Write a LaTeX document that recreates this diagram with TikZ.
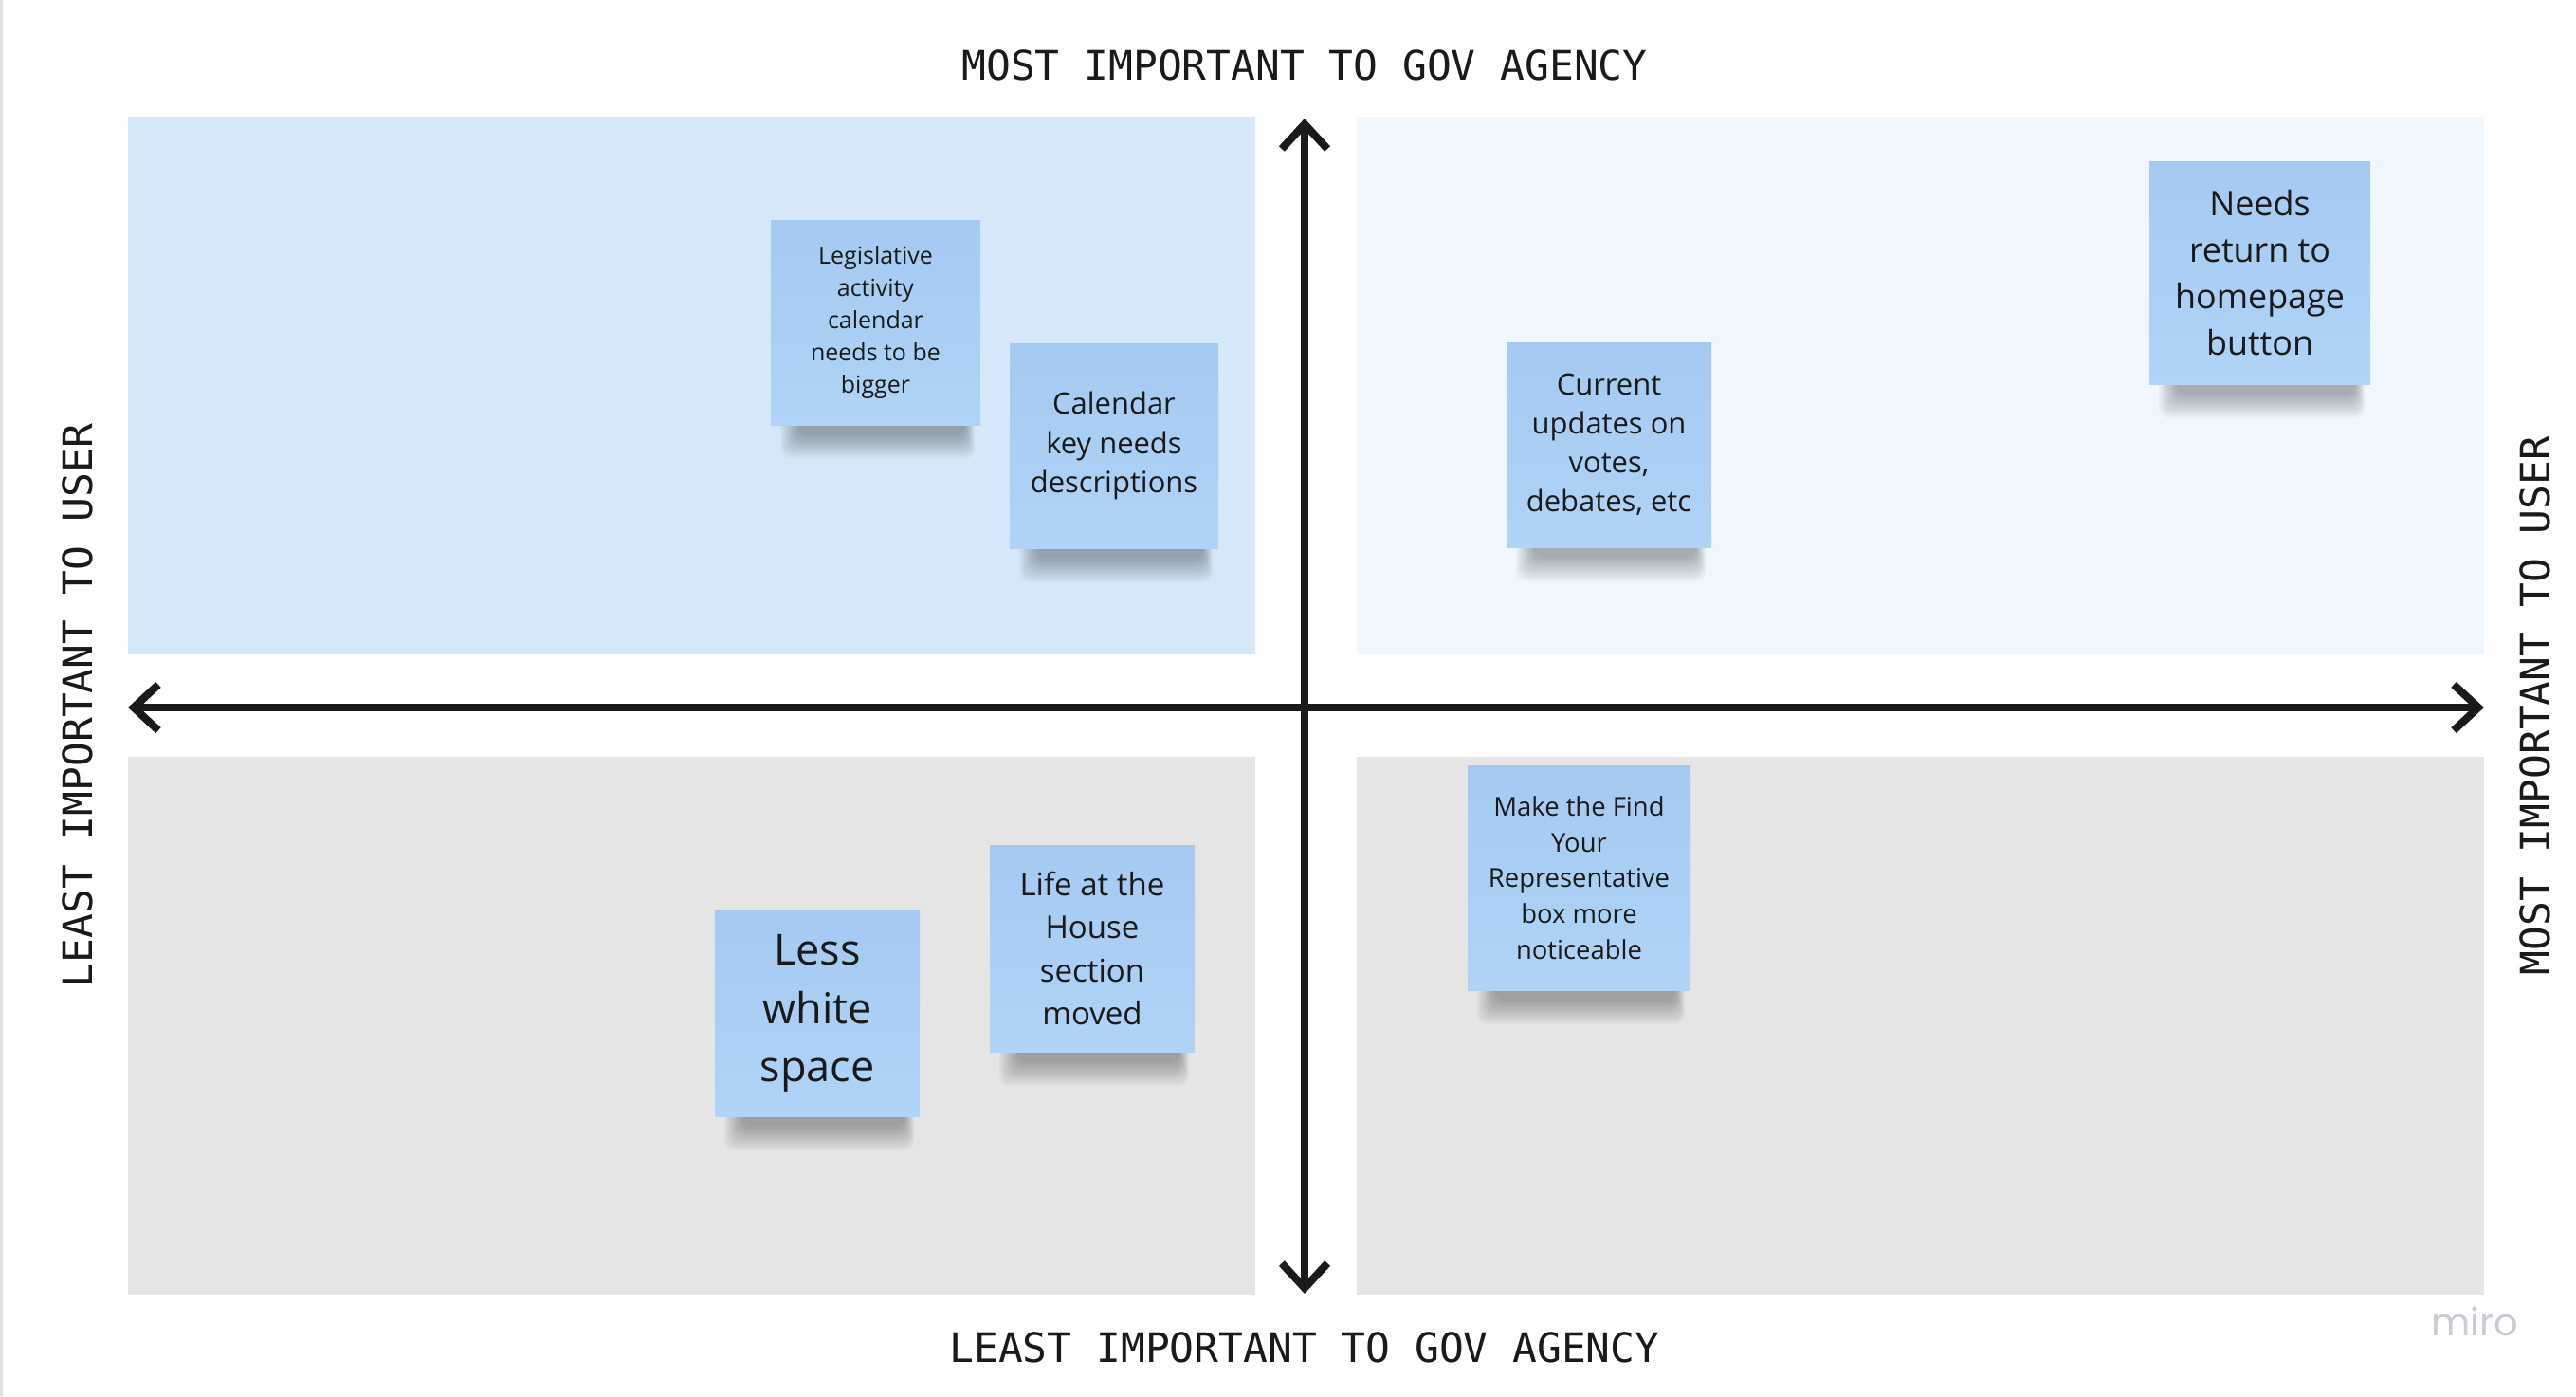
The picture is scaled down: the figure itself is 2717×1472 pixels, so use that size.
\documentclass[tikz,border=0pt]{standalone}
\usepackage{fontspec}
\setmainfont{Open Sans}
\newfontfamily\axisfont{DejaVu Sans Mono}
\newfontfamily\logofont{Poppins}
\usetikzlibrary{arrows.meta}
\definecolor{quadTL}{HTML}{D5E8F9}
\definecolor{quadTR}{HTML}{EFF6FE}
\definecolor{quadB}{HTML}{E5E5E5}
\definecolor{ink}{HTML}{1A1A1A}
\definecolor{stickyTop}{HTML}{A5C9F1}
\definecolor{stickyBot}{HTML}{B0D3F7}
\definecolor{logogray}{HTML}{CBCBD6}
\pgfdeclarelayer{quadlayer}
\pgfdeclarelayer{shadowlayer}
\pgfsetlayers{quadlayer,shadowlayer,main}
\tikzset{
  quadrant/.style={inner sep=0pt, outer sep=0pt},
  sticky/.style={inner sep=0pt, outer sep=0pt, top color=stickyTop, bottom color=stickyBot, text=ink, align=center},
  axislabel/.style={font=\axisfont\fontsize{12.2pt}{14pt}\selectfont, text=ink, inner sep=0pt},
  axisarrow/.style={draw=ink, line width=2.3pt, {Straight Barb[length=7.4pt,width=13.7pt]}-{Straight Barb[length=7.4pt,width=13.7pt]}},
  shadowpart/.style={fill=black, opacity=0.028, rounded corners=3pt}
}
\newcommand\stickynote[8]{%
  \node[sticky, minimum width={#4*0.01cm}, minimum height={#5*0.01cm},
        font=\fontsize{#6}{#7}\selectfont] (#1) at (#2,#3) {#8};
  \begin{pgfonlayer}{shadowlayer}
    \foreach \k in {0,...,11}{
      \fill[shadowpart] ([shift={(10+1.7*\k,-8)}]#1.south west) rectangle ([shift={(-6-0.9*\k,36-2.3*\k)}]#1.south east);
    }
  \end{pgfonlayer}
}
\begin{document}
\begin{tikzpicture}[x=0.01cm,y=-0.01cm]
\useasboundingbox (0,0) rectangle (2717,1472);
\begin{pgfonlayer}{quadlayer}
  \fill[white] (0,0) rectangle (2717,1472);
  \draw[color=black!12, line width=0.8pt] (1.5,0) -- (1.5,1472);
  \node[quadrant, fill=quadTL, minimum width=11.89cm, minimum height=5.67cm] (qtl) at (729.5,406.5) {};
  \node[quadrant, fill=quadTR, minimum width=11.89cm, minimum height=5.67cm] (qtr) at (2025.5,406.5) {};
  \node[quadrant, fill=quadB, minimum width=11.89cm, minimum height=5.67cm] (qbl) at (729.5,1081.5) {};
  \node[quadrant, fill=quadB, minimum width=11.89cm, minimum height=5.67cm] (qbr) at (2025.5,1081.5) {};
\end{pgfonlayer}

% axes
\coordinate (xleft) at (135,746);
\coordinate (xright) at (2620,746);
\coordinate (ytop) at (1376,125);
\coordinate (ybottom) at (1376,1364);
\draw[axisarrow] (xleft) -- (xright);
\draw[axisarrow] (ybottom) -- (ytop);

% axis labels
\node[axislabel] (toplabel) at (1376,69) {MOST IMPORTANT TO GOV AGENCY};
\node[axislabel] (bottomlabel) at (1376,1421) {LEAST IMPORTANT TO GOV AGENCY};
\node[axislabel, rotate=90] (leftlabel) at (82,744) {LEAST IMPORTANT TO USER};
\node[axislabel, rotate=90] (rightlabel) at (2674,744) {MOST IMPORTANT TO USER};

% sticky notes
\stickynote{legis}{923.5}{340}{221}{216}{7.1pt}{9.7pt}{Legislative\\activity\\calendar\\needs to be\\bigger}
\stickynote{calkey}{1175}{470}{220}{216}{8.8pt}{11.7pt}{Calendar\\key needs\\descriptions}
\stickynote{current}{1697}{469}{216}{216}{8.8pt}{11.7pt}{Current\\updates on\\votes,\\debates, etc}
\stickynote{homebtn}{2383.5}{287.5}{233}{235}{10.2pt}{13.9pt}{Needs\\return to\\homepage\\button}
\stickynote{lesswhite}{862}{1068.5}{216}{217}{12.8pt}{17.4pt}{Less\\white\\space}
\stickynote{lifehouse}{1152}{1000}{216}{218}{9.4pt}{12.8pt}{Life at the\\House\\section\\moved}
\stickynote{findrep}{1665.5}{925.5}{235}{237}{7.8pt}{10.7pt}{Make the Find\\Your\\Representative\\box more\\noticeable}

% logo
\node[anchor=base, inner sep=0pt, text=logogray, font=\logofont\fontsize{11.4pt}{13pt}\selectfont] (logo) at (2610,1408) {miro};
\end{tikzpicture}
\end{document}
